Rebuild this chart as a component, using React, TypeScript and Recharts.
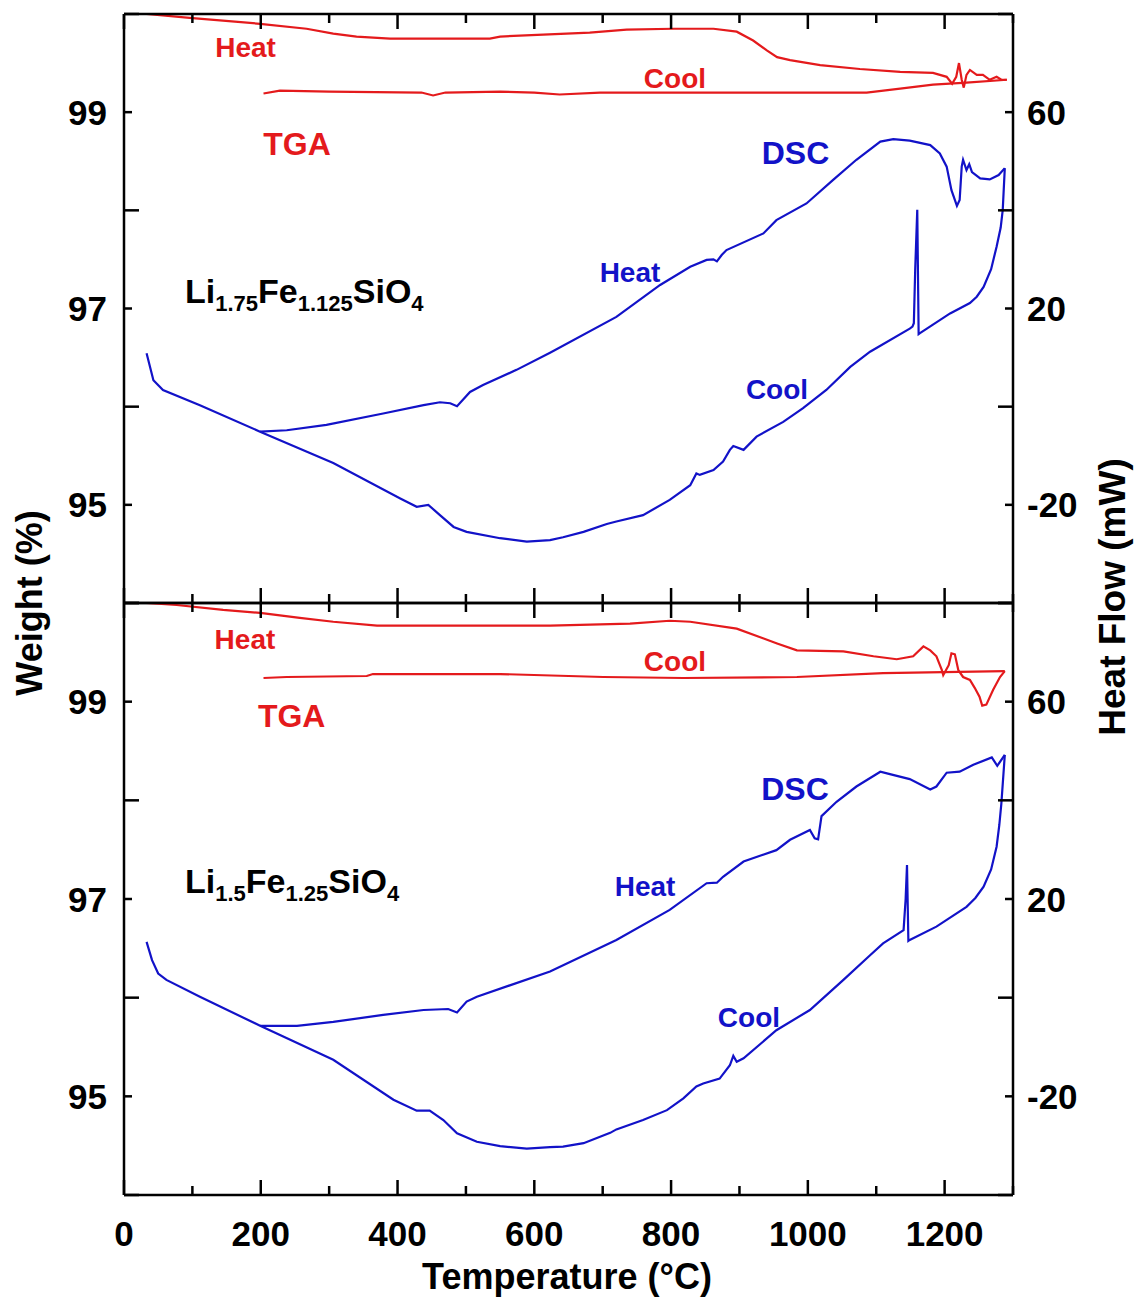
import React from 'react';
import { LineChart, Line, XAxis, YAxis, ReferenceDot } from 'recharts';

const RED = '#e41a1c';
const BLUE = '#1212c8';
const FONT = '"Liberation Sans", Arial, Helvetica, sans-serif';

// ---- axes ----
const X_TICKS = [0, 100, 200, 300, 400, 500, 600, 700, 800, 900, 1000, 1100, 1200, 1300];
const X_LABELS = [0, 200, 400, 600, 800, 1000, 1200];
const W_TICKS = [94, 95, 96, 97, 98, 99, 100];
const W_LABELS = [95, 97, 99];
const H_TICKS = [-40, -20, 0, 20, 40, 60, 80];
const H_LABELS = [-20, 20, 60];
const X_DOMAIN = [0, 1300];
const W_DOMAIN = [94, 100];
const H_DOMAIN = [-40, 80];

// ---- top panel: Li1.75Fe1.125SiO4 ----  [temperature °C, value]
const TOP_TGA_HEAT = [
  [33, 100.0], [96, 99.96], [199, 99.9], [267, 99.85], [306, 99.8], [340, 99.77], [389, 99.75], [535, 99.75],
  [550, 99.77], [613, 99.79], [681, 99.81], [735, 99.84], [803, 99.85], [862, 99.85], [896, 99.82], [920, 99.73],
  [940, 99.63], [955, 99.56], [974, 99.53], [1018, 99.48], [1076, 99.44], [1135, 99.41], [1183, 99.4], [1203, 99.36],
  [1211, 99.29], [1217, 99.36], [1221, 99.5], [1225, 99.33], [1228, 99.25], [1232, 99.38], [1237, 99.43], [1247, 99.38],
  [1256, 99.38], [1266, 99.33], [1276, 99.36], [1283, 99.33], [1291, 99.33],
];
const TOP_TGA_COOL = [
  [1291, 99.33], [1232, 99.3], [1183, 99.28], [1135, 99.24], [1086, 99.2], [900, 99.2], [696, 99.2], [637, 99.18],
  [600, 99.2], [550, 99.21], [470, 99.2], [452, 99.17], [435, 99.2], [300, 99.21], [228, 99.22], [204, 99.19],
];
const TOP_DSC_HEAT = [
  [199, -5.1], [238, -4.8], [296, -3.7], [379, -1.4], [438, 0.3], [462, 0.9], [477, 0.7], [487, 0.1], [506, 3.0],
  [525, 4.4], [574, 7.5], [623, 11.0], [720, 18.3], [784, 24.8], [828, 28.5], [852, 29.9], [862, 30.0], [867, 29.6],
  [874, 30.9], [881, 31.9], [935, 35.3], [954, 38.0], [998, 41.4], [1037, 46.2], [1071, 50.3], [1106, 54.0],
  [1125, 54.5], [1149, 54.2], [1179, 53.3], [1193, 51.6], [1203, 48.9], [1210, 44.1], [1218, 40.9], [1222, 42.1],
  [1225, 48.9], [1227, 50.3], [1232, 48.2], [1236, 49.4], [1240, 47.8], [1252, 46.5], [1266, 46.3], [1279, 47.2],
  [1288, 48.6],
];
const TOP_DSC_COOL = [
  [1288, 48.6], [1285, 40.1], [1282, 36.5], [1276, 32.6], [1268, 28.0], [1257, 24.4], [1247, 22.4], [1237, 21.1],
  [1208, 19.0], [1164, 15.0], [1162, 14.8], [1160, 40.1], [1157, 28.0], [1155, 17.0], [1153, 16.3], [1149, 15.9],
  [1091, 11.2], [1062, 8.1], [1027, 3.4], [993, -0.3], [964, -3.1], [925, -6.1], [906, -8.8], [891, -8.0],
  [886, -8.8], [876, -11.2], [862, -12.9], [842, -13.9], [837, -13.6], [828, -16.0], [798, -19.0], [759, -22.1],
  [720, -23.4], [706, -23.9], [672, -25.5], [642, -26.6], [623, -27.2], [589, -27.5], [550, -26.8], [501, -25.5],
  [482, -24.5], [462, -22.1], [445, -20.0], [428, -20.4], [404, -18.7], [306, -11.5], [199, -5.1], [111, 0.3],
  [57, 3.4], [43, 5.4], [33, 10.9],
];

// ---- bottom panel: Li1.5Fe1.25SiO4 ----
const BOT_TGA_HEAT = [
  [33, 100.0], [77, 99.98], [145, 99.93], [199, 99.9], [257, 99.85], [306, 99.81], [370, 99.77], [623, 99.77],
  [740, 99.79], [798, 99.82], [828, 99.81], [896, 99.74], [955, 99.59], [984, 99.52], [1052, 99.51], [1096, 99.46],
  [1130, 99.43], [1154, 99.46], [1169, 99.56], [1179, 99.52], [1188, 99.46], [1196, 99.32], [1198, 99.27],
  [1206, 99.37], [1210, 99.49], [1215, 99.48], [1220, 99.32], [1227, 99.25], [1237, 99.22], [1244, 99.14],
  [1251, 99.05], [1255, 98.96], [1261, 98.97], [1271, 99.12], [1281, 99.25], [1288, 99.31],
];
const BOT_TGA_COOL = [
  [1288, 99.31], [1198, 99.3], [1110, 99.29], [984, 99.25], [818, 99.24], [701, 99.25], [550, 99.28], [364, 99.28],
  [355, 99.26], [238, 99.25], [204, 99.24],
];
const BOT_DSC_HEAT = [
  [199, -5.7], [253, -5.7], [306, -4.9], [379, -3.5], [438, -2.5], [474, -2.3], [487, -3.0], [501, -0.8], [516, 0.2],
  [623, 5.3], [720, 11.7], [798, 17.8], [852, 23.2], [867, 23.3], [876, 24.5], [906, 27.6], [954, 29.9], [974, 32.0],
  [1003, 34.0], [1010, 32.3], [1015, 32.1], [1020, 36.8], [1042, 39.7], [1071, 42.8], [1106, 45.8], [1120, 45.3],
  [1149, 44.3], [1179, 42.2], [1188, 42.8], [1203, 45.6], [1222, 45.8], [1242, 47.2], [1269, 48.7], [1277, 47.0],
  [1288, 49.2],
];
const BOT_DSC_COOL = [
  [1288, 49.2], [1283, 39.4], [1280, 35.0], [1276, 30.6], [1268, 26.0], [1257, 22.5], [1245, 20.2], [1232, 18.4],
  [1188, 14.4], [1149, 11.7], [1147, 11.5], [1145, 26.9], [1143, 20.0], [1140, 13.7], [1110, 11.0], [1091, 8.6],
  [1052, 3.6], [1003, -2.5], [954, -6.6], [906, -12.3], [896, -13.0], [891, -11.8], [886, -13.7], [871, -16.4],
  [847, -17.4], [837, -18.0], [818, -20.4], [794, -22.8], [759, -24.8], [720, -26.7], [711, -27.4], [672, -29.5],
  [642, -30.2], [623, -30.3], [589, -30.6], [550, -30.1], [516, -29.2], [487, -27.5], [467, -24.8], [447, -22.9],
  [428, -22.9], [394, -20.7], [306, -12.6], [199, -5.7], [111, 0.2], [62, 3.6], [50, 4.9], [41, 7.6], [33, 11.3],
];

// ---- annotations: [text, temperature, weight-axis value, kind] ----
const TOP_NOTES: [string, number, number, string][] = [
  ['Heat', 177.7, 99.654, 'tga'], ['Cool', 805.7, 99.348, 'tga'], ['TGA', 253, 98.671, 'tgaBig'],
  ['DSC', 981.9, 98.579, 'dscBig'], ['Heat', 739.9, 97.362, 'dsc'], ['Cool', 954.9, 96.17, 'dsc'],
];
const BOT_NOTES: [string, number, number, string][] = [
  ['Heat', 176.9, 99.635, 'tga'], ['Cool', 805.7, 99.405, 'tga'], ['TGA', 245.2, 98.855, 'tgaBig'],
  ['DSC', 981.2, 98.115, 'dscBig'], ['Heat', 761.9, 97.127, 'dsc'], ['Cool', 913.9, 95.804, 'dsc'],
];
const TOP_FORMULA: [string, string][] = [['Li', '1.75'], ['Fe', '1.125'], ['SiO', '4']];
const BOT_FORMULA: [string, string][] = [['Li', '1.5'], ['Fe', '1.25'], ['SiO', '4']];
const FORMULA_POS = [89.2, 97.058];

const NOTE_STYLE: Record<string, { fill: string; size: number }> = {
  tga: { fill: RED, size: 28 },
  tgaBig: { fill: RED, size: 32 },
  dsc: { fill: BLUE, size: 28 },
  dscBig: { fill: BLUE, size: 32 },
};

const toPts = (a: number[][]) => a.map(([t, v]) => ({ t, v }));

const AXIS = { stroke: '#000', strokeWidth: 2.5 };
const TICK_FONT = { fontFamily: FONT, fontWeight: 700, fontSize: 35, fill: '#000' };

const LeftTick = (p: any) => {
  const v = p.payload.value;
  const lab = W_LABELS.includes(v);
  const len = lab ? 8 : 15;
  return (
    <g>
      <line x1={p.x} x2={p.x + len} y1={p.y} y2={p.y} stroke="#000" strokeWidth={2.5} />
      {lab && (
        <text x={p.x - 17} y={p.y} textAnchor="end" dominantBaseline="central" {...TICK_FONT}>
          {v}
        </text>
      )}
    </g>
  );
};

const RightTick = (p: any) => {
  const v = p.payload.value;
  const lab = H_LABELS.includes(v);
  const len = lab ? 8 : 15;
  return (
    <g>
      <line x1={p.x} x2={p.x - len} y1={p.y} y2={p.y} stroke="#000" strokeWidth={2.5} />
      {lab && (
        <text x={p.x + 14} y={p.y} textAnchor="start" dominantBaseline="central" {...TICK_FONT}>
          {v}
        </text>
      )}
    </g>
  );
};

const makeBottomTick = (labels: boolean) => (p: any) => {
  const v = p.payload.value;
  const major = v % 200 === 0;
  const len = major ? 15 : 9;
  return (
    <g>
      <line x1={p.x} x2={p.x} y1={p.y} y2={p.y - len} stroke="#000" strokeWidth={2.5} />
      {labels && X_LABELS.includes(v) && (
        <text x={p.x} y={p.y + 38} textAnchor="middle" dominantBaseline="central" {...TICK_FONT}>
          {v}
        </text>
      )}
    </g>
  );
};
const BottomTickPlain = makeBottomTick(false);
const BottomTickLabels = makeBottomTick(true);

const TopTick = (p: any) => {
  const v = p.payload.value;
  const major = v % 200 === 0;
  const len = major ? 15 : 9;
  return <line x1={p.x} x2={p.x} y1={p.y} y2={p.y + len} stroke="#000" strokeWidth={2.5} />;
};

const Formula = ({ cx, cy, parts }: { cx: number; cy: number; parts: [string, string][] }) => (
  <text x={cx} y={cy} fontFamily={FONT} fontWeight={700} fontSize={34} fill="#000">
    {parts.map(([main, sub], i) => [
      <tspan key={'m' + i} dy={i === 0 ? 0 : -8}>
        {main}
      </tspan>,
      <tspan key={'s' + i} fontSize={22} dy={8}>
        {sub}
      </tspan>,
    ])}
  </text>
);

type PanelProps = {
  height: number;
  marginBottom: number;
  bottomH: number;
  labels: boolean;
  tgaHeat: number[][];
  tgaCool: number[][];
  dscHeat: number[][];
  dscCool: number[][];
  notes: [string, number, number, string][];
  formula: [string, string][];
};

const Panel = (pp: PanelProps) => (
  <LineChart width={1138} height={pp.height} margin={{ top: 13, right: 0, bottom: pp.marginBottom, left: 0 }}>
    <XAxis
      xAxisId={0}
      dataKey="t"
      type="number"
      domain={X_DOMAIN}
      ticks={X_TICKS}
      interval={0}
      allowDataOverflow
      height={pp.bottomH}
      axisLine={AXIS}
      tickLine={false}
      tickSize={0}
      tickMargin={0}
      tick={pp.labels ? BottomTickLabels : BottomTickPlain}
    />
    <XAxis
      xAxisId="top"
      orientation="top"
      dataKey="t"
      type="number"
      domain={X_DOMAIN}
      ticks={X_TICKS}
      interval={0}
      allowDataOverflow
      height={1}
      axisLine={AXIS}
      tickLine={false}
      tickSize={0}
      tickMargin={0}
      tick={TopTick}
    />
    <YAxis
      yAxisId="w"
      orientation="left"
      width={124}
      type="number"
      domain={W_DOMAIN}
      ticks={W_TICKS}
      interval={0}
      allowDataOverflow
      axisLine={AXIS}
      tickLine={false}
      tickSize={0}
      tickMargin={0}
      tick={LeftTick}
    />
    <YAxis
      yAxisId="h"
      orientation="right"
      width={125}
      type="number"
      domain={H_DOMAIN}
      ticks={H_TICKS}
      interval={0}
      allowDataOverflow
      axisLine={AXIS}
      tickLine={false}
      tickSize={0}
      tickMargin={0}
      tick={RightTick}
    />
    <Line xAxisId={0} yAxisId="w" data={toPts(pp.tgaHeat)} dataKey="v" type="linear" stroke={RED} strokeWidth={2.2} dot={false} activeDot={false} isAnimationActive={false} />
    <Line xAxisId={0} yAxisId="w" data={toPts(pp.tgaCool)} dataKey="v" type="linear" stroke={RED} strokeWidth={2.2} dot={false} activeDot={false} isAnimationActive={false} />
    <Line xAxisId={0} yAxisId="h" data={toPts(pp.dscHeat)} dataKey="v" type="linear" stroke={BLUE} strokeWidth={2.2} dot={false} activeDot={false} isAnimationActive={false} />
    <Line xAxisId={0} yAxisId="h" data={toPts(pp.dscCool)} dataKey="v" type="linear" stroke={BLUE} strokeWidth={2.2} dot={false} activeDot={false} isAnimationActive={false} />
    {pp.notes.map(([text, t, w, kind], i) => (
      <ReferenceDot
        key={'n' + i}
        xAxisId={0}
        yAxisId="w"
        x={t}
        y={w}
        r={1}
        isFront
        shape={(sp: any) => (
          <text
            x={sp.cx}
            y={sp.cy}
            textAnchor="middle"
            dominantBaseline="central"
            fontFamily={FONT}
            fontWeight={700}
            fontSize={NOTE_STYLE[kind].size}
            fill={NOTE_STYLE[kind].fill}
          >
            {text}
          </text>
        )}
      />
    ))}
    <ReferenceDot
      xAxisId={0}
      yAxisId="w"
      x={FORMULA_POS[0]}
      y={FORMULA_POS[1]}
      r={1}
      isFront
      shape={(sp: any) => <Formula cx={sp.cx} cy={sp.cy} parts={pp.formula} />}
    />
  </LineChart>
);

const TITLE = { fontFamily: FONT, fontWeight: 700, fill: '#000' };

export default function App() {
  return (
    <div style={{ position: 'absolute', left: 0, top: 0, width: 1138, height: 1297, background: '#fff' }}>
      <div style={{ position: 'absolute', left: 0, top: 0 }}>
        <Panel
          height={606}
          marginBottom={2}
          bottomH={1}
          labels={false}
          tgaHeat={TOP_TGA_HEAT}
          tgaCool={TOP_TGA_COOL}
          dscHeat={TOP_DSC_HEAT}
          dscCool={TOP_DSC_COOL}
          notes={TOP_NOTES}
          formula={TOP_FORMULA}
        />
      </div>
      <div style={{ position: 'absolute', left: 0, top: 589 }}>
        <Panel
          height={708}
          marginBottom={0}
          bottomH={102}
          labels={true}
          tgaHeat={BOT_TGA_HEAT}
          tgaCool={BOT_TGA_COOL}
          dscHeat={BOT_DSC_HEAT}
          dscCool={BOT_DSC_COOL}
          notes={BOT_NOTES}
          formula={BOT_FORMULA}
        />
      </div>
      <svg width={1138} height={1297} style={{ position: 'absolute', left: 0, top: 0, pointerEvents: 'none' }}>
        <text x={567} y={1276} textAnchor="middle" dominantBaseline="central" fontSize={36} {...TITLE}>
          Temperature (°C)
        </text>
        <text
          x={29}
          y={603}
          textAnchor="middle"
          dominantBaseline="central"
          fontSize={36}
          transform="rotate(-90 29 603)"
          {...TITLE}
        >
          Weight (%)
        </text>
        <text
          x={1112}
          y={597}
          textAnchor="middle"
          dominantBaseline="central"
          fontSize={37}
          transform="rotate(-90 1112 597)"
          {...TITLE}
        >
          Heat Flow (mW)
        </text>
      </svg>
    </div>
  );
}
